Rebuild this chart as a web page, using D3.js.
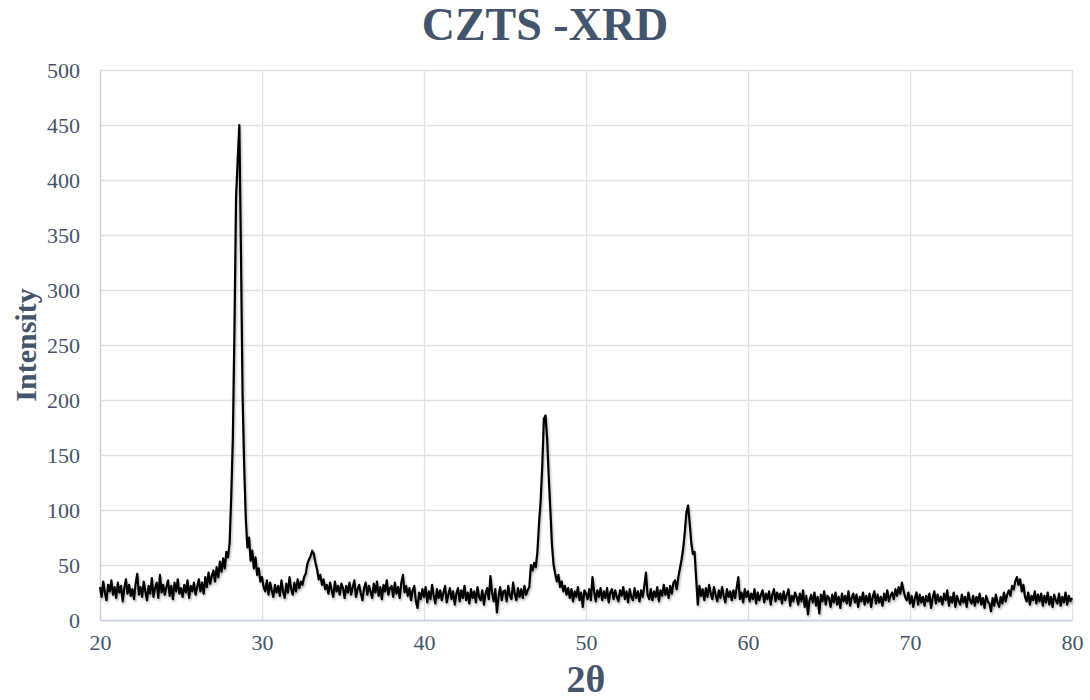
<!DOCTYPE html>
<html>
<head>
<meta charset="utf-8">
<title>CZTS -XRD</title>
<script src="https://cdn.jsdelivr.net/npm/d3@7"></script>
<style>
  body { margin: 0; background: #ffffff; }
  svg { display: block; }
</style>
</head>
<body>
<svg id="chart" width="1090" height="700"></svg>
<script>
// scan settings (2theta, degrees)
var scanStart = 20;
var scanStep = 0.1;

// measured intensity, one value per step, 20.0 .. 80.0
var intensity = [
  30,21,35,25,18,32,26,36,23,30,   // 20
  20,34,25,31,17,29,37,24,32,22,   // 21
  28,19,33,42,23,30,21,35,26,18,   // 22
  31,24,38,21,29,34,20,41,25,32,   // 23
  23,30,36,22,31,19,34,26,37,24,   // 24
  29,21,32,25,36,20,31,26,34,23,   // 25
  30,37,26,34,24,39,30,43,33,40,   // 26
  45,35,48,39,53,44,56,47,62,57,   // 27
  70,112,165,265,385,418,450,335,205,140, // 28
  92,66,75,54,63,47,57,41,47,35,   // 29
  39,30,26,36,23,34,27,21,32,25,   // 30
  31,22,36,26,20,33,25,39,28,23,   // 31
  34,26,37,29,35,32,39,42,51,55,   // 32
  58,63,60,52,46,37,41,32,37,28,   // 33
  32,24,34,27,21,35,26,31,23,33,   // 34
  29,20,31,25,34,23,30,36,21,28,   // 35
  32,24,18,29,34,23,31,26,20,33,   // 36
  25,35,22,30,19,32,26,36,23,29,   // 37
  31,21,34,24,30,20,34,41,25,31,   // 38
  22,29,18,27,31,17,11,25,19,28,   // 39
  21,30,16,26,19,32,22,15,28,20,   // 40
  27,18,25,31,16,23,29,19,26,14,   // 41
  24,29,17,27,20,31,18,25,15,28,   // 42
  20,26,16,30,21,18,27,14,24,29,   // 43
  19,40,25,17,28,7,21,30,18,26,    // 44
  27,17,31,22,19,34,24,18,29,21,   // 45
  28,20,31,23,27,30,50,45,52,48,   // 46
  62,88,108,140,183,186,165,130,100,68, // 47
  50,42,35,41,30,35,26,31,23,29,   // 48
  20,28,17,26,21,30,18,25,12,27,   // 49
  24,19,28,18,39,26,17,27,21,29,   // 50
  18,26,20,29,16,25,28,19,27,21,   // 51
  17,27,22,30,19,26,16,28,21,18,   // 52
  29,20,26,17,27,21,31,43,23,19,   // 53
  28,18,26,21,30,17,27,22,32,23,   // 54
  29,20,31,24,34,36,28,39,47,55,   // 55
  65,80,98,104,88,70,60,62,38,14,  // 56
  31,22,28,18,29,21,32,24,19,30,   // 57
  23,17,27,20,30,22,16,28,21,26,   // 58
  18,27,20,29,39,19,25,16,28,21,   // 59
  26,17,24,19,28,15,25,18,23,27,   // 60
  16,24,19,26,14,23,28,17,25,19,   // 61
  24,15,26,18,23,28,13,22,17,25,   // 62
  21,14,24,17,27,12,22,5,18,23,    // 63
  16,25,13,21,6,23,17,26,14,22,    // 64
  20,12,23,16,25,14,21,11,24,17,   // 65
  22,15,26,13,20,24,16,23,12,21,   // 66
  17,25,14,22,16,24,12,21,26,15,   // 67
  23,16,21,13,24,18,27,17,22,25,   // 68
  19,28,22,30,24,34,27,21,18,25,   // 69
  15,22,12,20,25,14,23,16,21,13,   // 70
  22,17,24,11,20,26,15,23,17,21,   // 71
  14,24,18,27,13,21,16,25,12,22,   // 72
  17,14,23,16,21,12,25,18,15,22,   // 73
  13,21,16,24,14,20,11,22,17,15,   // 74
  8,20,13,23,16,12,21,15,25,17,    // 75
  23,27,22,31,28,35,39,32,37,26,   // 76
  32,21,17,25,14,22,18,26,15,23,   // 77
  17,24,13,22,16,25,14,21,12,23,   // 78
  18,15,24,13,21,16,25,14,22,17,   // 79
  20                               // 80
];

var xTicks = [20, 30, 40, 50, 60, 70, 80];
var yTicks = [0, 50, 100, 150, 200, 250, 300, 350, 400, 450, 500];

var chartTitle = "CZTS -XRD";
var xTitle = "2θ";
var yTitle = "Intensity";

var TEXT_COLOR = "#44546A";
var GRID_COLOR = "#DDE2EA";
var FONT = "'Liberation Serif', 'Times New Roman', serif";

var svg = d3.select("#chart");
var margin = {left: 100, right: 18, top: 70, bottom: 80};
var width = 1090 - margin.left - margin.right;
var height = 700 - margin.top - margin.bottom;

var x = d3.scaleLinear().domain([20, 80]).range([0, width]);
var y = d3.scaleLinear().domain([0, 500]).range([height, 0]);

var points = intensity.map(function(v, i) {
    return {angle: scanStart + i * scanStep, value: v};
});

// soft shadow under the trace, like the office chart effect
var defs = svg.append("defs");
defs.append("filter")
    .attr("id", "shadow")
    .attr("x", "-5%").attr("y", "-5%")
    .attr("width", "110%").attr("height", "110%")
  .append("feDropShadow")
    .attr("dx", 1)
    .attr("dy", 2)
    .attr("stdDeviation", 1.2)
    .attr("flood-color", "#000000")
    .attr("flood-opacity", 0.3);

var g = svg.append("g")
    .attr("transform", "translate(" + margin.left + "," + margin.top + ")");

/*
 * gridlines
 */
g.append("g")
    .attr("class", "grid-y")
    .call(d3.axisLeft(y).tickValues(yTicks).tickSize(-width).tickFormat(""))
    .call(function(s) {
        s.select(".domain").remove();
        s.selectAll("line").attr("stroke", GRID_COLOR).attr("stroke-width", 1.3);
    });

g.append("g")
    .attr("class", "grid-x")
    .attr("transform", "translate(0," + height + ")")
    .call(d3.axisBottom(x).tickValues(xTicks).tickSize(-height).tickFormat(""))
    .call(function(s) {
        s.select(".domain").remove();
        s.selectAll("line").attr("stroke", GRID_COLOR).attr("stroke-width", 1.3);
    });

/*
 * axes
 */
var yAxis = g.append("g")
    .call(d3.axisLeft(y).tickValues(yTicks).tickSize(0).tickPadding(20));
yAxis.select(".domain").attr("stroke", "#C9D1DD").attr("stroke-width", 1.3);
yAxis.selectAll("text")
    .attr("fill", TEXT_COLOR)
    .style("font-family", FONT)
    .style("font-size", "22px");

var xAxis = g.append("g")
    .attr("transform", "translate(0," + height + ")")
    .call(d3.axisBottom(x).tickValues(xTicks).tickSize(0).tickPadding(14));
xAxis.select(".domain").attr("stroke", "#C9D1DD").attr("stroke-width", 1.3);
xAxis.selectAll("text")
    .attr("fill", TEXT_COLOR)
    .style("font-family", FONT)
    .style("font-size", "22px");

/*
 * the scan
 */
var line = d3.line()
    .x(function(d) { return x(d.angle); })
    .y(function(d) { return y(d.value); });

g.append("path")
    .datum(points)
    .attr("fill", "none")
    .attr("stroke", "#000000")
    .attr("stroke-width", 2.2)
    .attr("stroke-linejoin", "round")
    .attr("filter", "url(#shadow)")
    .attr("d", line);

/*
 * titles
 */
svg.append("text")
    .attr("x", 545)
    .attr("y", 40)
    .attr("text-anchor", "middle")
    .attr("fill", TEXT_COLOR)
    .style("font-family", FONT)
    .style("font-weight", "bold")
    .style("font-size", "46px")
    .text(chartTitle);

svg.append("text")
    .attr("x", margin.left + width / 2)
    .attr("y", 692)
    .attr("text-anchor", "middle")
    .attr("fill", TEXT_COLOR)
    .style("font-family", FONT)
    .style("font-weight", "bold")
    .style("font-size", "38px")
    .text(xTitle);

svg.append("text")
    .attr("transform", "translate(36," + (margin.top + height / 2) + ") rotate(-90)")
    .attr("text-anchor", "middle")
    .attr("fill", TEXT_COLOR)
    .style("font-family", FONT)
    .style("font-weight", "bold")
    .style("font-size", "30px")
    .text(yTitle);
</script>
</body>
</html>
